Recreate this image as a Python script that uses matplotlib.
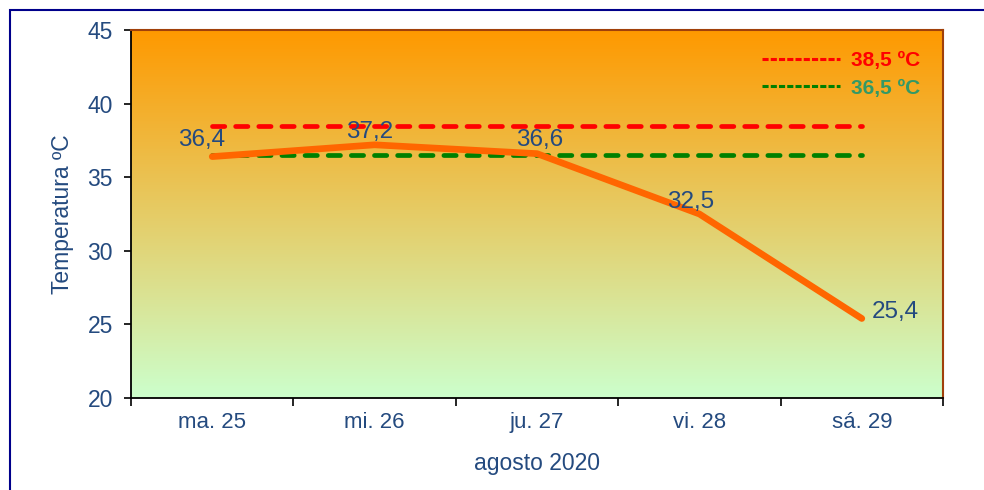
import numpy as np
import matplotlib.pyplot as plt
from matplotlib.lines import Line2D
from matplotlib.patches import Rectangle

plt.rcParams["font.family"] = ["Liberation Sans", "DejaVu Sans"]

days = ["ma. 25", "mi. 26", "ju. 27", "vi. 28", "sá. 29"]
temps = [36.4, 37.2, 36.6, 32.5, 25.4]
fever_limit = 38.5
normal_limit = 36.5
value_labels = ["36,4", "37,2", "36,6", "32,5", "25,4"]
label_offsets = [(-11, 17), (-5, 13), (3, 14), (-9, 12), (34, 7)]

TEXT_BLUE = "#244A7F"

fig = plt.figure(figsize=(9.84, 4.9), dpi=100)
ax = fig.add_axes([131 / 984, 1 - 398 / 490, (943 - 131) / 984, (398 - 30) / 490])

# outer chart frame (left and top visible)
fig.patches.append(Rectangle((10 / 984, -0.1), 1.2, 1 - 10 / 490 + 0.1,
                             transform=fig.transFigure, fill=False,
                             edgecolor="#00008B", linewidth=1.5, clip_on=False))

x = np.arange(len(days))
ax.set_xlim(-0.5, len(days) - 0.5)
ax.set_ylim(20, 45)

# background gradient orange -> light green
top = np.array([255, 153, 0]) / 255
bottom = np.array([204, 255, 204]) / 255
t = np.linspace(0, 1, 256)[:, None]
grad = (top * (1 - t) + bottom * t)[:, None, :]
ax.imshow(grad, extent=[-0.5, len(days) - 0.5, 20, 45], aspect="auto",
          zorder=0, origin="upper", interpolation="bilinear")

ax.plot(x, [fever_limit] * len(x), color="#FF0000", lw=3.4,
        dashes=(2.6, 2.3), dash_capstyle="round", zorder=2)
ax.plot(x, [normal_limit] * len(x), color="#008000", lw=3.4,
        dashes=(2.6, 2.3), dash_capstyle="round", zorder=2)
ax.plot(x, temps, color="#FF6600", lw=4.8, solid_capstyle="round",
        solid_joinstyle="round", zorder=3)

for xi, yi, lab, off in zip(x, temps, value_labels, label_offsets):
    ax.annotate(lab, (xi, yi), xytext=off, textcoords="offset pixels",
                ha="center", va="center", fontsize=17.5, color=TEXT_BLUE, zorder=4)

# legend
handles = [
    Line2D([], [], color="#FF0000", lw=2.2, dashes=(2.0, 0.7)),
    Line2D([], [], color="#008000", lw=2.2, dashes=(2.0, 0.7)),
]
leg = ax.legend(handles, ["38,5 ºC", "36,5 ºC"], loc="upper right",
                bbox_to_anchor=(0.992, 0.987), frameon=False,
                handlelength=3.75, handletextpad=0.5, labelspacing=0.4,
                borderpad=0.3, prop={"weight": "bold", "size": 15})
for txt, c in zip(leg.get_texts(), ["#FF0000", "#339966"]):
    txt.set_color(c)

# category axis with ticks between categories
ax.set_xticks(np.arange(-0.5, len(days), 1.0))
ax.set_xticklabels([])
ax.set_xticks(x, minor=True)
ax.set_xticklabels(days, minor=True)
ax.tick_params(axis="x", which="minor", length=0, pad=10, labelsize=16,
               labelcolor=TEXT_BLUE)
ax.tick_params(axis="x", which="major", length=6, width=1.2, color="black",
               direction="out")
ax.set_yticks(np.arange(20, 46, 5))
ax.tick_params(axis="y", length=5, width=1.2, color="black", pad=8,
               labelsize=16.5, labelcolor=TEXT_BLUE)

for side in ["left", "bottom"]:
    ax.spines[side].set_color("black")
    ax.spines[side].set_linewidth(1.3)
for side in ["top", "right"]:
    ax.spines[side].set_color("#A0400A")
    ax.spines[side].set_linewidth(1.5)

ax.set_xlabel("agosto 2020", fontsize=16.5, color=TEXT_BLUE, labelpad=13.5)
ax.set_ylabel("Temperatura ºC", fontsize=16.5, color=TEXT_BLUE, labelpad=10)

fig.savefig("out.png", dpi=100)
